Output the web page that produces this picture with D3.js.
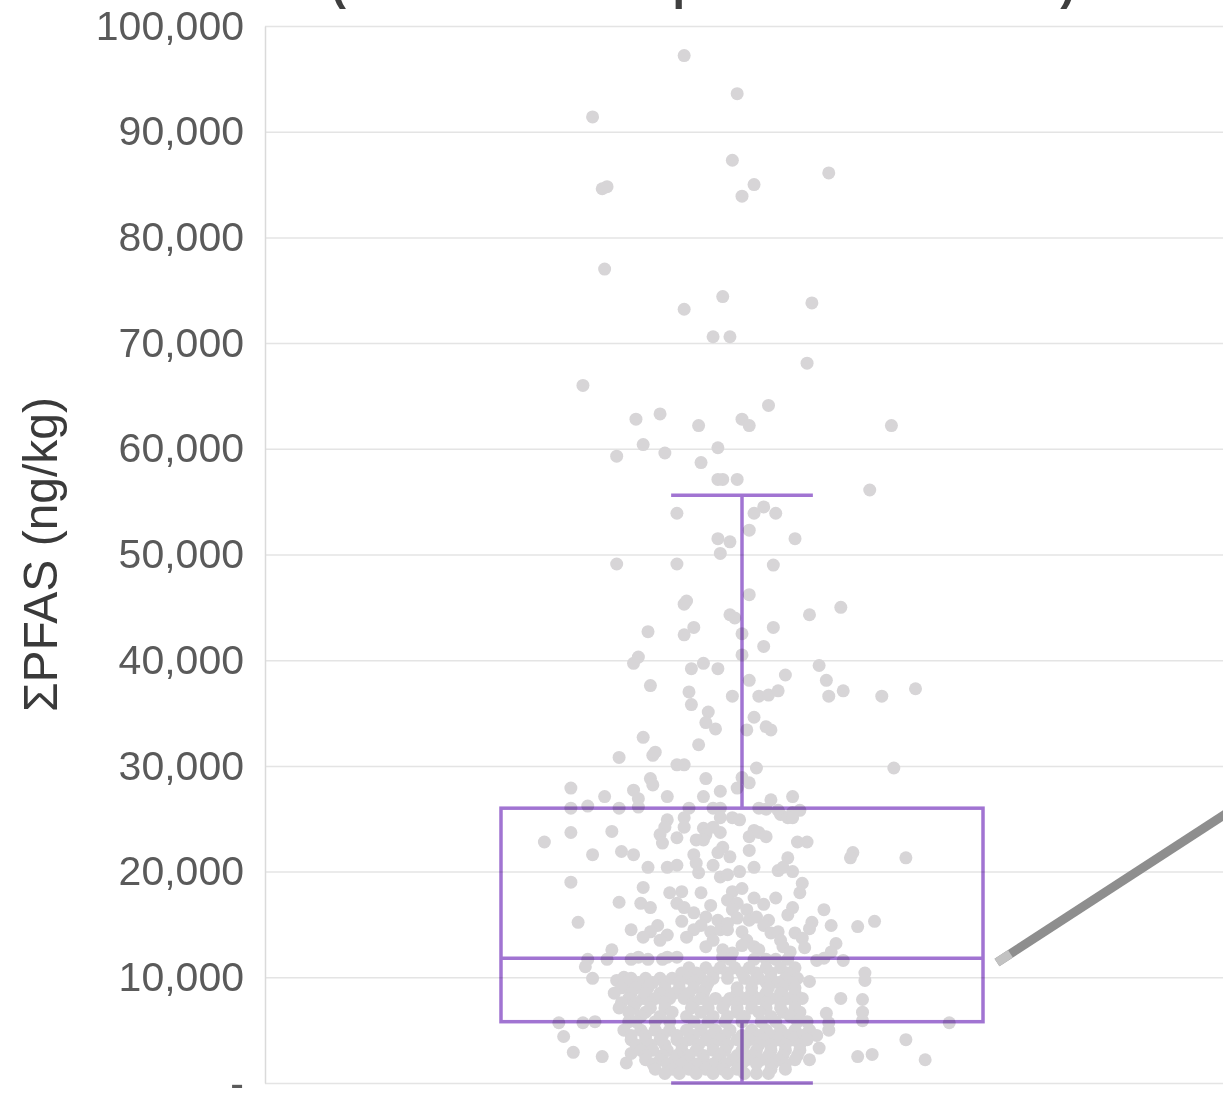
<!DOCTYPE html>
<html>
<head>
<meta charset="utf-8">
<script src="https://cdn.jsdelivr.net/npm/d3@7"></script>
<style>
  html, body { margin: 0; padding: 0; background: #ffffff; }
  svg { display: block; font-family: "Liberation Sans", Arial, Helvetica, sans-serif; }
</style>
</head>
<body>
<script>
// ---- data -------------------------------------------------------------
const categories = ["ΣPFAS"];
const titleText = "(Total of all compounds measured)";
const yLabel = "ΣPFAS (ng/kg)";

const tickValues = [0, 10000, 20000, 30000, 40000, 50000, 60000, 70000, 80000, 90000, 100000];
const tickLabels = ["-", "10,000", "20,000", "30,000", "40,000", "50,000", "60,000", "70,000", "80,000", "90,000", "100,000"];

// five-number summary of the box (ng/kg)
const whiskerLow = 0;
const q1 = 5800;
const median = 11800;
const q3 = 26000;
const whiskerHigh = 55600;

// individual samples: [horizontal jitter within the box (-1..1), ΣPFAS ng/kg]
const samples = [
  // upper tail
  [-0.24,97200],[-0.02,93600],[-0.62,91400],[-0.04,87300],[0.36,86100],[0.05,85000],[0.00,83900],[-0.58,84600],[-0.56,84800],
  [-0.57,77000],[-0.08,74400],[-0.24,73200],[0.29,73800],[-0.12,70600],[-0.05,70600],[0.27,68100],[-0.66,66000],[0.11,64100],
  [-0.44,62800],[-0.34,63300],[-0.18,62200],[0.00,62800],[0.03,62200],[0.62,62200],[-0.41,60400],[-0.52,59300],[-0.32,59600],
  [-0.10,60100],[-0.17,58700],[-0.10,57100],[-0.08,57100],[-0.02,57100],[0.53,56100],[-0.27,53900],[0.05,53900],[0.09,54500],[0.14,53900],
  // 26k - 53k
  [0.03,52300],[-0.10,51500],[-0.05,51200],[-0.09,50100],[0.22,51500],[-0.52,49100],[-0.27,49100],[0.13,49000],[0.03,46200],
  [-0.24,45300],[-0.23,45600],[0.41,45000],[0.28,44300],[-0.05,44300],[-0.03,44000],[0.13,43100],[-0.20,43100],[-0.39,42700],
  [-0.24,42400],[0.00,42500],[0.09,41300],[0.00,40500],[-0.45,39700],[-0.43,40300],[-0.16,39700],[-0.21,39200],[-0.10,39200],
  [0.32,39500],[0.18,38600],[0.35,38100],[0.03,38100],[-0.38,37600],[-0.22,37000],[0.42,37100],[0.72,37300],[0.58,36600],
  [0.36,36600],[-0.04,36600],[0.07,36600],[0.11,36700],[0.15,37100],
  [-0.21,35800],[-0.14,35100],[-0.15,34100],[-0.11,33500],[0.05,34600],[0.12,33400],[0.10,33700],[0.02,33400],[-0.41,32700],
  [-0.18,32000],[-0.51,30800],[-0.37,31000],[-0.36,31300],[-0.27,30100],[-0.24,30100],[0.06,29800],[0.63,29800],
  [-0.38,28800],[-0.37,28200],[-0.15,28800],[0.00,28900],[-0.02,27900],[0.03,28400],[-0.71,27900],[-0.45,27700],[-0.43,26900],
  [-0.09,27600],[-0.57,27100],[-0.31,27100],[-0.16,27100],[0.21,27100],[0.12,26800],
  // around the upper quartile
  [-0.71,26000],[-0.64,26200],[-0.51,26000],[-0.43,26100],[-0.22,26000],[-0.12,26000],[-0.09,26000],[0.07,26000],[0.10,25900],
  [0.15,25800],[0.21,25600],[0.24,25800],
  // upper quartile down to the median
  [-0.31,24900],[-0.32,24200],[-0.24,25100],[-0.24,24200],[-0.16,24100],[-0.15,23500],[-0.16,23000],[-0.09,23700],[-0.08,22300],
  [-0.04,25100],[-0.01,24900],[-0.09,25100],[-0.12,24200],[0.05,23900],[0.03,23300],[0.07,23700],[0.10,23300],[0.16,25400],
  [0.19,25100],[0.21,25100],[-0.71,23700],[-0.54,23800],[-0.82,22800],[-0.34,23500],[-0.33,22700],[-0.27,23200],[-0.19,23000],
  [0.23,22800],[0.27,22800],[0.03,22000],[-0.62,21600],[-0.50,21900],[-0.45,21600],[-0.20,21600],[-0.10,21800],[-0.05,21400],
  [0.46,21800],[0.45,21300],[0.68,21300],[0.19,21300],
  [-0.39,20400],[-0.31,20400],[-0.27,20600],[-0.19,20800],[-0.18,19900],[-0.12,20600],[-0.09,19500],[-0.06,19700],[-0.01,20000],
  [0.05,20400],[0.15,20100],[0.17,20400],[0.21,20000],
  [-0.71,19000],[-0.41,18500],[-0.30,18000],[-0.25,18100],[-0.17,18000],[-0.04,18100],[0.00,18400],[0.25,18900],[0.24,18000],
  [-0.51,17100],[-0.42,17000],[-0.38,16600],[-0.27,17000],[-0.24,16600],[-0.20,16100],[-0.06,17300],[-0.02,17000],[-0.04,16400],
  [0.02,16400],[0.05,17500],[0.14,17500],[0.21,16600],[0.19,15900],[0.34,16400],
  [-0.13,16800],[0.09,16900],[0.11,15400],[-0.02,15600],[-0.25,15300],
  [-0.68,15200],[-0.15,15700],[-0.17,14900],[-0.10,15400],[-0.06,15100],[0.03,15400],[0.06,15700],[0.09,14900],[0.29,15200],
  [0.37,14900],[0.48,14800],[0.55,15300],[0.28,14600],[0.22,14200],
  [-0.46,14500],[-0.35,14900],[-0.38,14300],[-0.41,13800],[-0.31,14000],[-0.34,13500],[-0.20,14500],[-0.23,13800],[-0.13,14300],
  [-0.09,14500],[-0.06,14500],[0.00,14300],[0.02,13500],[0.12,14200],[0.15,14300],[0.16,13500],[0.25,13700],[-0.12,13500],
  [0.39,13200],[0.37,12400],[-0.54,12600],[-0.08,12600],[-0.04,12300],[0.05,12900],[0.07,12600],[0.17,12900],[0.20,12400],
  [0.00,13000],[-0.15,12900],[0.26,12800],
  [-0.43,11900],[-0.31,11900],[-0.27,11900],
  // along the median
  [-0.64,11700],[-0.56,11700],[-0.46,11700],[-0.39,11700],[-0.33,11700],[-0.08,11900],[-0.05,11700],[0.05,11700],[0.10,11700],
  [0.14,11700],[0.19,11700],[0.31,11600],[0.34,11800],[0.42,11600],[-0.65,11000],
  // median down to the lower quartile
  [-0.62,9900],[-0.52,9700],[-0.49,10000],[0.28,9600],[0.51,10400],[0.51,9700],[0.41,8000],[0.50,7900],[0.50,6700],[0.50,5900],
  [0.35,6600],[0.36,5700],[0.36,5000],[0.86,5700],
  [-0.22,10900],[-0.15,10900],[-0.09,10900],[-0.03,10900],[0.03,10900],[0.10,10900],[0.16,10900],[0.22,10900],
  [-0.25,10400],[-0.19,10400],[-0.12,10400],[-0.06,10400],[0.00,10400],[0.06,10400],[0.12,10400],[0.19,10400],
  [-0.46,9900],[-0.40,9900],[-0.34,9900],[-0.29,9900],[-0.22,9900],[-0.17,9900],[-0.12,9900],[-0.06,9900],[0.01,9900],
  [0.07,9900],[0.12,9900],[0.18,9900],[0.23,9900],
  [-0.48,9500],[-0.43,9500],[-0.37,9500],[-0.32,9500],[-0.26,9500],[-0.20,9500],[-0.14,9500],[0.04,9500],
  [0.10,9500],[0.15,9500],[0.21,9500],
  [-0.50,9000],[-0.44,9000],[-0.39,9000],[-0.32,9000],[-0.26,9000],[-0.20,9000],[-0.15,9000],[-0.02,9000],[0.04,9000],
  [0.11,9000],[0.17,9000],[0.22,9000],
  [-0.53,8500],[-0.46,8500],[-0.40,8500],[-0.34,8500],[-0.28,8500],[-0.22,8500],[-0.16,8500],[-0.02,8500],[0.04,8500],
  [0.10,8500],[0.16,8500],[0.22,8500],
  [-0.47,8000],[-0.41,8000],[-0.36,8000],[-0.30,8000],[-0.24,8000],[-0.17,8000],[-0.11,8000],[-0.05,8000],[0.01,8000],
  [0.07,8000],[0.12,8000],[0.19,8000],[0.25,8000],
  [-0.50,7600],[-0.44,7600],[-0.38,7600],[-0.32,7600],[-0.20,7600],[-0.14,7600],[-0.07,7600],[-0.02,7600],[0.04,7600],
  [0.10,7600],[0.16,7600],[0.22,7600],
  [-0.51,7100],[-0.45,7100],[-0.38,7100],[-0.32,7100],[-0.21,7100],[-0.14,7100],[-0.08,7100],[-0.02,7100],[0.04,7100],
  [0.10,7100],[0.16,7100],[0.22,7100],
  [-0.47,6700],[-0.40,6700],[-0.29,6700],[-0.17,6700],[-0.02,6700],[0.07,6700],[0.17,6700],[0.24,6700],
  [-0.42,6300],[-0.34,6300],[-0.23,6300],[-0.12,6300],[-0.06,6300],[0.01,6300],[0.12,6300],[0.20,6300],
  // along the lower quartile
  [-0.76,5700],[-0.66,5700],[-0.61,5800],[-0.47,5800],[-0.44,5800],[-0.36,5800],[-0.30,5800],[-0.20,5800],[-0.14,5800],
  [-0.07,5800],[0.00,5800],[0.08,5800],[0.14,5800],[0.23,5800],[0.27,5800],
  // below the lower quartile
  [-0.74,4400],[-0.70,2900],[-0.58,2500],[-0.48,1900],[-0.46,2800],[0.48,2500],[0.54,2700],[0.68,4100],[0.76,2200],
  [0.32,3300],[0.06,900],[0.13,1900],[0.28,2200],
  [-0.49,5000],[-0.42,5000],[-0.36,5000],[-0.30,5000],[-0.23,5000],[-0.17,5000],[-0.11,5000],[-0.05,5000],[0.04,5000],
  [0.10,5000],[0.16,5000],[0.22,5000],[0.28,5000],
  [-0.46,4500],[-0.40,4500],[-0.33,4500],[-0.27,4500],[-0.20,4500],[-0.13,4500],[-0.07,4500],[0.00,4500],[0.07,4500],
  [0.12,4500],[0.19,4500],[0.25,4500],[0.31,4500],
  [-0.46,4100],[-0.40,4100],[-0.34,4100],[-0.27,4100],[-0.22,4100],[-0.15,4100],[-0.09,4100],[-0.02,4100],[0.03,4100],
  [0.09,4100],[0.15,4100],[0.21,4100],[0.27,4100],
  [-0.44,3600],[-0.38,3600],[-0.32,3600],[-0.25,3600],[-0.18,3600],[-0.12,3600],[-0.06,3600],[0.01,3600],[0.07,3600],
  [0.12,3600],[0.18,3600],[0.24,3600],
  [-0.42,3100],[-0.37,3100],[-0.31,3100],[-0.25,3100],[-0.19,3100],[-0.12,3100],[-0.07,3100],[0.00,3100],[0.06,3100],
  [0.12,3100],[0.18,3100],[0.24,3100],
  [-0.40,2600],[-0.33,2600],[-0.27,2600],[-0.22,2600],[-0.16,2600],[-0.09,2600],[-0.02,2600],[0.04,2600],[0.11,2600],
  [0.17,2600],[0.23,2600],
  [-0.40,2200],[-0.34,2200],[-0.28,2200],[-0.22,2200],[-0.16,2200],[-0.10,2200],[-0.04,2200],[0.02,2200],[0.08,2200],
  [0.15,2200],[0.22,2200],
  [-0.37,1800],[-0.31,1800],[-0.25,1800],[-0.19,1800],[-0.12,1800],[-0.07,1800],[0.00,1800],[0.06,1800],[0.12,1800],[0.18,1800],
  [-0.36,1300],[-0.29,1300],[-0.22,1300],[-0.15,1300],[-0.08,1300],[-0.02,1300],[0.12,1300],[0.18,1300],
  [-0.32,900],[-0.26,900],[-0.19,900],[-0.12,900],[-0.06,900],[0.01,900],[0.11,900]
];

// ---- layout -----------------------------------------------------------
const W = 1223, H = 1099;
const plotLeft = 265, plotRight = 1219, plotTop = 26, plotBottom = 1083;

const svg = d3.select("body").append("svg")
  .attr("width", W).attr("height", H)
  .attr("viewBox", `0 0 ${W} ${H}`);

const y = d3.scaleLinear().domain([0, 100000]).range([plotBottom, plotTop]);
const x = d3.scaleBand().domain(categories).range([plotLeft, plotRight])
  .paddingInner(0).paddingOuter(0.4896);
const cat = categories[0];
const boxLeft = x(cat), boxRight = x(cat) + x.bandwidth();
const cx = boxLeft + x.bandwidth() / 2;
const jitterX = d3.scaleLinear().domain([-1, 1]).range([boxLeft, boxRight]);

// ---- title (runs off the top edge) -------------------------------------
svg.append("text")
  .attr("x", 703).attr("y", 0)
  .attr("text-anchor", "middle")
  .attr("font-size", 45).attr("font-weight", "bold")
  .attr("fill", "#3f3f3f")
  .text(titleText);

// ---- gridlines -------------------------------------------------------
svg.append("g")
  .attr("transform", `translate(${plotLeft},0)`)
  .call(d3.axisLeft(y).tickValues(tickValues).tickSize(-(W - plotLeft)).tickFormat(""))
  .call(g => g.select(".domain").remove())
  .call(g => g.selectAll(".tick line").attr("stroke", "#e4e4e4").attr("stroke-width", 1.5));

// ---- y axis --------------------------------------------------------------
const yAxis = svg.append("g")
  .attr("transform", `translate(${plotLeft},0)`)
  .call(d3.axisLeft(y).tickValues(tickValues)
    .tickFormat((d, i) => tickLabels[i])
    .tickSize(0).tickSizeOuter(0).tickPadding(21));
yAxis.select(".domain").attr("stroke", "#dadada").attr("stroke-width", 1.5);
yAxis.selectAll(".tick text")
  .attr("font-size", 41)
  .attr("font-family", "'Liberation Sans', Arial, sans-serif")
  .attr("fill", "#5a5a5a");

svg.append("text")
  .attr("transform", `translate(40,${(plotTop + plotBottom) / 2}) rotate(-90)`)
  .attr("text-anchor", "middle")
  .attr("dominant-baseline", "central")
  .attr("font-size", 48)
  .attr("fill", "#3a3a3a")
  .text(yLabel);

// ---- sample points ---------------------------------------------------------
svg.append("g")
  .selectAll("circle")
  .data(samples)
  .join("circle")
  .attr("cx", d => jitterX(d[0]))
  .attr("cy", d => y(d[1]))
  .attr("r", 6.5)
  .attr("fill", "#d7d5d7");

// ---- box and whiskers --------------------------------------------------------
const boxG = svg.append("g")
  .attr("fill", "none")
  .attr("stroke", "#a174d2")
  .attr("stroke-width", 3.5)
  .style("mix-blend-mode", "multiply");

const capHalf = x.bandwidth() * 0.147;

boxG.append("rect")
  .attr("x", boxLeft).attr("y", y(q3))
  .attr("width", x.bandwidth()).attr("height", y(q1) - y(q3));
boxG.append("line")
  .attr("x1", boxLeft).attr("x2", boxRight)
  .attr("y1", y(median)).attr("y2", y(median));
boxG.append("line")
  .attr("x1", cx).attr("x2", cx).attr("y1", y(q3)).attr("y2", y(whiskerHigh));
boxG.append("line")
  .attr("x1", cx).attr("x2", cx).attr("y1", y(q1)).attr("y2", y(whiskerLow));
boxG.append("line")
  .attr("x1", cx - capHalf).attr("x2", cx + capHalf)
  .attr("y1", y(whiskerHigh)).attr("y2", y(whiskerHigh));
boxG.append("line")
  .attr("x1", cx - capHalf).attr("x2", cx + capHalf)
  .attr("y1", y(whiskerLow)).attr("y2", y(whiskerLow));

// ---- callout leader leaving the median toward the right ----------------------
const leadStart = [boxRight + 14, y(11400)];
const slope = -0.65;
const leadEnd = [W + 30, leadStart[1] + slope * (W + 30 - leadStart[0])];
svg.append("line")
  .attr("x1", leadStart[0]).attr("y1", leadStart[1])
  .attr("x2", leadEnd[0]).attr("y2", leadEnd[1])
  .attr("stroke", "#8e8e8e").attr("stroke-width", 9);
const capLen = 16;
const dx = capLen / Math.sqrt(1 + slope * slope);
svg.append("line")
  .attr("x1", leadStart[0]).attr("y1", leadStart[1])
  .attr("x2", leadStart[0] + dx).attr("y2", leadStart[1] + slope * dx)
  .attr("stroke", "#c2c2c2").attr("stroke-width", 9);
</script>
</body>
</html>
